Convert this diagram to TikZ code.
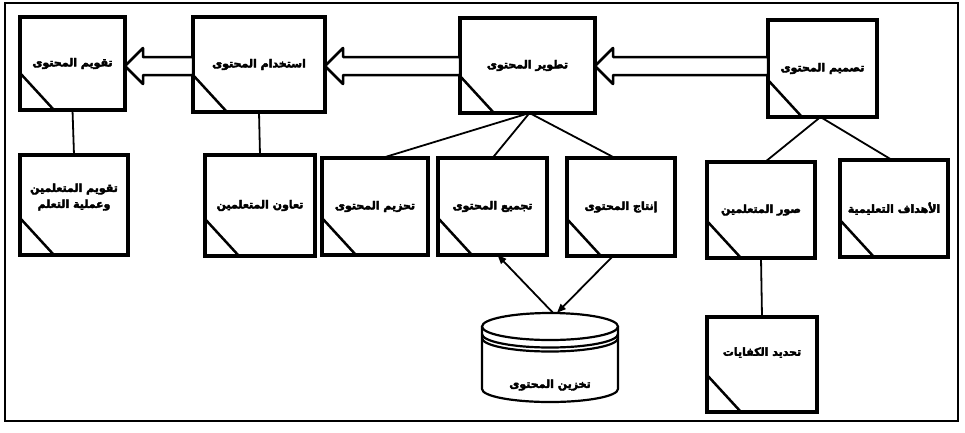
\documentclass[tikz,border=0pt]{standalone}
\usepackage{fontspec}
\newfontfamily\arabicfont[Script=Arabic, FakeBold=3.5]{DejaVu Sans}
\TeXXeTstate=1
\usetikzlibrary{arrows.meta,calc}
\newcommand{\bigarrow}[2]{%
  \path (#2.east |- arow) coordinate (T) (#1.west |- arow) coordinate (S);
  \draw[bigarr] (T) -- ([shift={(18pt,18pt)}]T) -- ([shift={(18pt,9pt)}]T) -- ([yshift=9pt]S)
    -- ([yshift=-9pt]S) -- ([shift={(18pt,-9pt)}]T) -- ([shift={(18pt,-18pt)}]T) -- cycle;}
\begin{document}
\begin{tikzpicture}[x=1pt,y=-1pt,
  box/.style={draw, line width=3.5pt, fill=white, inner sep=0pt, outer sep=0pt, align=center,
    font=\fontsize{11}{16}\selectfont\arabicfont\bfseries},
  txt/.style={inner sep=0pt, align=center, font=\fontsize{11}{16}\selectfont\arabicfont\bfseries},
  corner/.style={line width=2.5pt},
  link/.style={line width=1.8pt},
  flow/.style={line width=1.8pt, -{Triangle[length=9pt,width=7pt]}},
  bigarr/.style={line width=2.5pt, fill=white, line join=round},
  cyl/.style={line width=2.2pt}]
\useasboundingbox (0,0) rectangle (965,432);
\draw[line width=1.8pt] (5,3) rectangle (958,421);
% top row
\node[box, minimum width=105pt, minimum height=93pt] (tqm) at (72.5,63.5) {\beginR تقويم المحتوى\endR};
\node[box, minimum width=132pt, minimum height=95pt] (ist) at (259,64.5) {\beginR استخدام المحتوى\endR};
\node[box, minimum width=135pt, minimum height=95pt] (tat) at (527.5,65.5) {\beginR تطوير المحتوى\endR};
\node[box, minimum width=109pt, minimum height=97pt] (tas) at (822.5,68.5) {\beginR تصميم المحتوى\endR};
% second row
\node[box, minimum width=108pt, minimum height=100pt] (tqmt) at (74,205) {};
\node[txt] (tqmt-t) at ([yshift=8pt]tqmt.center) {\beginR تقويم المتعلمين\endR\\\beginR وعملية التعلم\endR};
\node[box, minimum width=110pt, minimum height=101pt] (taw) at (260,205.5) {\beginR تعاون المتعلمين\endR};
\node[box, minimum width=106pt, minimum height=97pt] (thz) at (375,206.5) {\beginR تحزيم المحتوى\endR};
\node[box, minimum width=109pt, minimum height=97pt] (tjm) at (492.5,206.5) {\beginR تجميع المحتوى\endR};
\node[box, minimum width=108pt, minimum height=98pt] (int) at (621,207) {\beginR إنتاج المحتوى\endR};
\node[box, minimum width=108pt, minimum height=96pt] (swr) at (761,210) {\beginR صور المتعلمين\endR};
\node[box, minimum width=108pt, minimum height=97pt] (ahd) at (894,208.5) {\beginR الأهداف التعليمية\endR};
% third row
\node[box, minimum width=110pt, minimum height=95pt] (thd) at (762,364.5) {};
\node[txt] (thd-t) at ([yshift=12pt]thd.center) {\beginR تحديد الكفايات\endR};
% corners
\foreach \b in {tqm,ist,tat,tas,tqmt,taw,thz,tjm,int,swr,ahd,thd}
  \draw[corner] ([yshift=37pt]\b.south west) -- ([xshift=34pt]\b.south west);
% big arrows
\coordinate (arow) at (0,66);
\bigarrow{tas}{tat}
\bigarrow{tat}{ist}
\bigarrow{ist}{tqm}
% links
\draw[link] (tqm.south) -- (tqmt.north);
\draw[link] (ist.south) -- (taw.north);
\draw[link] ([xshift=2pt]tat.south) -- ([xshift=7pt]thz.north);
\draw[link] ([xshift=2pt]tat.south) -- (tjm.north);
\draw[link] ([xshift=2pt]tat.south) -- ([xshift=-6pt]int.north);
\draw[link] ([xshift=-2pt]tas.south) -- ([xshift=4pt]swr.north);
\draw[link] ([xshift=-2pt]tas.south) -- ([xshift=-2pt]ahd.north);
\draw[link] (swr.south) -- (thd.north);
% cylinder
\node[minimum width=136pt, minimum height=90pt, inner sep=0pt] (cyl) at (550,358) {};
\fill[white] (482,326.5) -- (482,389) arc[start angle=180, end angle=360, x radius=68pt, y radius=13pt] -- (618,326.5) -- cycle;
\draw[cyl] (482,326.5) -- (482,389) arc[start angle=180, end angle=360, x radius=68pt, y radius=13pt] -- (618,326.5);
\draw[cyl, fill=white] (550,326.5) ellipse[x radius=68pt, y radius=13.5pt];
\draw[cyl] (482,334) arc[start angle=180, end angle=360, x radius=68pt, y radius=13.5pt];
\draw[cyl] (482,338) arc[start angle=180, end angle=360, x radius=68pt, y radius=13.5pt];
\node[txt] (cyl-t) at (550,385) {\beginR تخزين المحتوى\endR};
\draw[flow] ([xshift=-8pt]int.south) -- ([xshift=7pt]cyl.north);
\draw[flow] ([xshift=3pt]cyl.north) -- ([xshift=5pt]tjm.south);
\end{tikzpicture}
\end{document}
